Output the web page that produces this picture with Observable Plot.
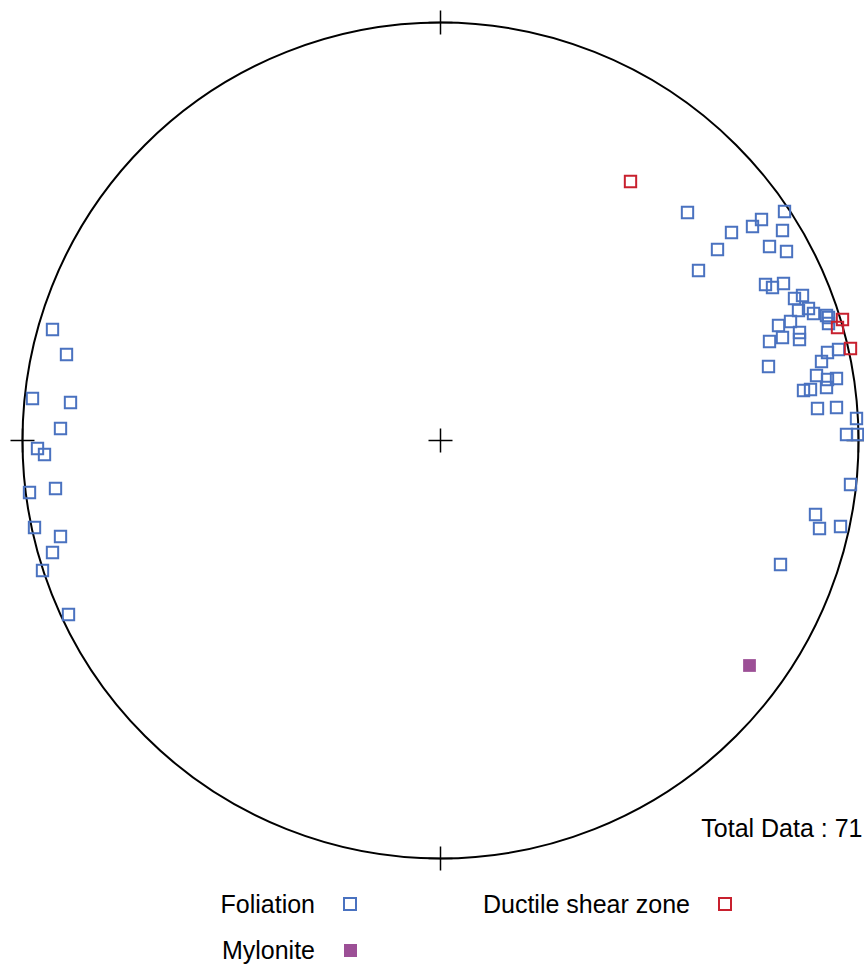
<!DOCTYPE html>
<html>
<head>
<meta charset="utf-8">
<script src="https://cdn.jsdelivr.net/npm/d3@7"></script>
<script src="https://cdn.jsdelivr.net/npm/@observablehq/plot@0.6"></script>
<style>
  body { margin: 0; background: #fff; font-family: "Liberation Sans", Arial, sans-serif; }
  #wrap { position: relative; width: 864px; }
  #legend { position: relative; width: 864px; height: 84px; font-size: 25px; color: #000; }
  #legend .lab { position: absolute; white-space: nowrap; line-height: 25px; }
  #legend .sw { position: absolute; width: 10px; height: 10px; }
</style>
</head>
<body>
<div id="wrap"></div>
<script>
// Projected positions on the stereonet (units: primitive circle radius = 418)
const foliationX = [247, 344, 321, 312, 342, 291, 329, 346, 277, 258, 325, 332, 343, 354, 362, 358, 368, 373, 350, 338, 359, 359, 342, 329, 386, 388, 388, 387, 398, 381, 328, 376, 387, 396, 386, 370, 363, 377, 396, 416, 406, 417, 410, 375, 379, 400, 340,
  -388, -374, -408, -370, -380, -403, -396, -385, -411, -406, -380, -388, -398, -372];
const foliationY = [228, 229, 221, 214, 210, 208, 194, 189, 191, 170, 156, 153, 157, 142, 145, 130, 132, 127, 119, 115, 108, 101, 103, 99, 125, 117, 123, 88, 91, 79, 74, 65, 61, 62, 53, 51, 50, 32, 33, 22, 6, 6, -44, -74, -88, -86, -124,
  111, 86, 42, 38, 12, -8, -14, -48, -52, -87, -96, -112, -130, -174];
const shearX = [190, 402, 397, 410];
const shearY = [259, 121, 113, 92];
const myloniteX = [309];
const myloniteY = [-225];
const R = 418;
const compass = [[0, R], [0, -R], [R, 0], [-R, 0], [0, 0]];
const totalLabel = "Total Data : 71";
const categories = ["Foliation", "Ductile shear zone", "Mylonite"];
const colors = {Foliation: "#4a72c0", "Ductile shear zone": "#c8202e", Mylonite: "#9c4f96"};

const toRows = (xs, ys) => xs.map((x, i) => ({x, y: ys[i]}));
const fol = toRows(foliationX, foliationY);
const shear = toRows(shearX, shearY);
const myl = toRows(myloniteX, myloniteY);
const tl = 12;

const chart = Plot.plot({
  width: 864,
  height: 880,
  margin: 0,
  x: {domain: [-440, 424], axis: null},
  y: {domain: [-440, 440], axis: null},
  marks: [
    Plot.dot([0], {x: () => 0, y: () => 0, r: R, stroke: "#000", fill: "none", strokeWidth: 2}),
    Plot.link(compass, {x1: d => d[0] - tl, x2: d => d[0] + tl, y1: d => d[1], y2: d => d[1], stroke: "#000", strokeWidth: 1.5}),
    Plot.link(compass, {x1: d => d[0], x2: d => d[0], y1: d => d[1] - tl, y2: d => d[1] + tl, stroke: "#000", strokeWidth: 1.5}),
    Plot.dot(fol, {x: "x", y: "y", symbol: "square", r: 6.4, stroke: colors.Foliation, strokeWidth: 2, fill: "none"}),
    Plot.dot(shear, {x: "x", y: "y", symbol: "square", r: 6.4, stroke: colors["Ductile shear zone"], strokeWidth: 2, fill: "none"}),
    Plot.dot(myl, {x: "x", y: "y", symbol: "square", r: 7.2, fill: colors.Mylonite, stroke: "none"}),
    Plot.text([totalLabel], {x: () => 422, y: () => -388, text: d => d, textAnchor: "end", fontSize: 25, fill: "#000", fontFamily: "Liberation Sans, Arial, sans-serif"})
  ]
});
document.getElementById("wrap").appendChild(chart);

// Legend below the SVG
const legend = document.createElement("div");
legend.id = "legend";
const legendPos = {
  "Foliation": {right: 315, y: 24, sq: 350, filled: false},
  "Ductile shear zone": {right: 690, y: 24, sq: 725, filled: false},
  "Mylonite": {right: 315, y: 70, sq: 350, filled: true}
};
for (const c of categories) {
  const p = legendPos[c];
  const lab = document.createElement("div");
  lab.className = "lab";
  lab.textContent = c;
  lab.style.right = (864 - p.right) + "px";
  lab.style.top = (p.y - 12.5) + "px";
  legend.appendChild(lab);
  const sw = document.createElement("div");
  sw.className = "sw";
  if (p.filled) {
    sw.style.background = colors[c];
    sw.style.width = "13px"; sw.style.height = "13px";
    sw.style.left = (p.sq - 6.5) + "px"; sw.style.top = (p.y - 6.5) + "px";
  } else {
    sw.style.border = "2px solid " + colors[c];
    sw.style.left = (p.sq - 7) + "px"; sw.style.top = (p.y - 7) + "px";
  }
  legend.appendChild(sw);
}
document.getElementById("wrap").appendChild(legend);
</script>
</body>
</html>
